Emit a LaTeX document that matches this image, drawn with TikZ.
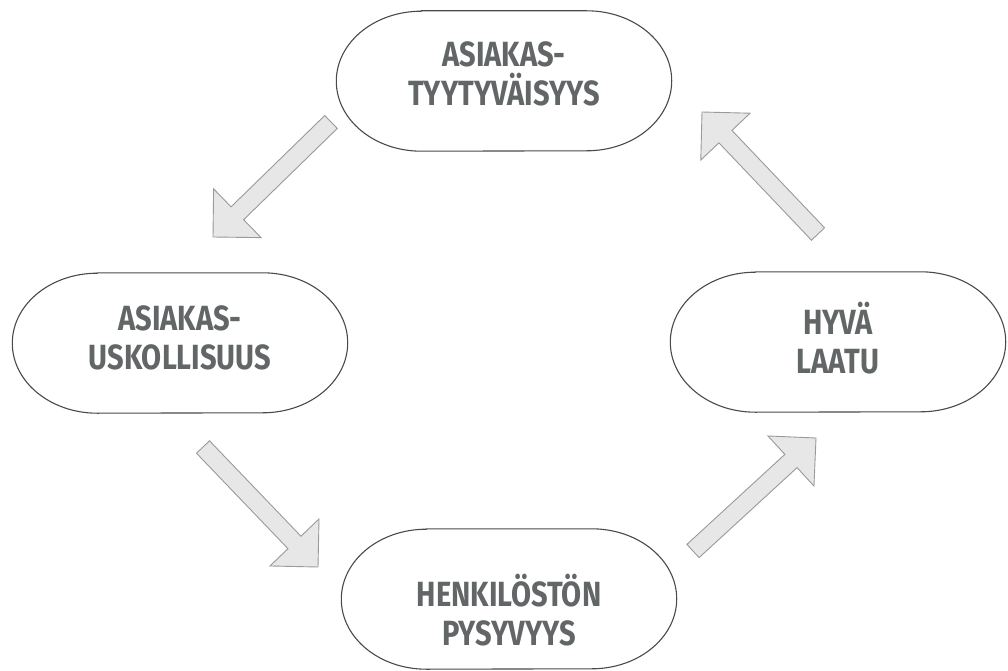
\documentclass[tikz,border=0pt]{standalone}
\usepackage{fontspec}
\newfontfamily\lblfont{Fira Sans}[FakeStretch=0.83]
\usetikzlibrary{calc}
\definecolor{ink}{HTML}{626666}
\definecolor{rim}{HTML}{4A4A4A}
\definecolor{arrowfill}{HTML}{E7E7E7}
\definecolor{arrowrim}{HTML}{9A9A9A}

\tikzset{
  pill/.style={minimum width=335pt, minimum height=140pt, inner sep=0pt},
  pilltext/.style={inner sep=0pt, align=center, text=ink,
    font=\lblfont\bfseries\fontsize{35}{39}\selectfont},
  pillrim/.style={draw=rim, line width=1.1pt},
  blockarrow/.style={fill=arrowfill, draw=arrowrim, line width=0.9pt, line join=miter},
}

% stadium outline with elliptical ends around a named node
\newcommand\pilloutline[1]{%
  \draw[pillrim] ($(#1.north west)+(85,0)$) -- ($(#1.north east)+(-85,0)$)
    arc[start angle=90, end angle=-90, x radius=85, y radius=70]
    -- ($(#1.south west)+(85,0)$)
    arc[start angle=270, end angle=90, x radius=85, y radius=70] -- cycle;}

% wide block arrow from a tail coordinate (#1) to a tip coordinate (#2)
\newcommand\blockarrow[2]{%
  \draw[blockarrow] (#2)
    -- ($(#2)!34pt!(#1)!34pt!90:(#1)$)
    -- ($(#2)!34pt!(#1)!9pt!90:(#1)$)
    -- ($(#1)!9pt!-90:(#2)$)
    -- ($(#1)!9pt!90:(#2)$)
    -- ($(#2)!34pt!(#1)!9pt!-90:(#1)$)
    -- ($(#2)!34pt!(#1)!34pt!-90:(#1)$)
    -- cycle;}

\begin{document}
\begin{tikzpicture}[x=1pt, y=1pt]
  \useasboundingbox[fill=white] (0,0) rectangle (1008,-671);

  \node[pill] (sat)   at (504,-81)  {};
  \node[pill] (loy)   at (180,-343) {};
  \node[pill] (qual)  at (838,-342) {};
  \node[pill] (staff) at (509,-599) {};

  \pilloutline{sat}
  \pilloutline{loy}
  \pilloutline{qual}
  \pilloutline{staff}

  \node[pilltext] (sat-text)   at ($(sat)+(0,7)$)     {ASIAKAS-\\TYYTYVÄISYYS};
  \node[pilltext] (loy-text)   at ($(loy)+(0,5)$)     {ASIAKAS-\\USKOLLISUUS};
  \node[pilltext] (qual-text)  at ($(qual)+(0,4)$)    {HYVÄ\\LAATU};
  \node[pilltext] (staff-text) at ($(staff)+(0,-11)$) {HENKILÖSTÖN\\PYSYVYYS};

  \coordinate (a1tail) at (331,-122);  \coordinate (a1tip) at (213,-237);
  \coordinate (a2tail) at (203,-447);  \coordinate (a2tip) at (318,-567);
  \coordinate (a3tail) at (693,-551);  \coordinate (a3tip) at (816,-438);
  \coordinate (a4tail) at (818,-234);  \coordinate (a4tip) at (702,-112);

  \blockarrow{a1tail}{a1tip}
  \blockarrow{a2tail}{a2tip}
  \blockarrow{a3tail}{a3tip}
  \blockarrow{a4tail}{a4tip}
\end{tikzpicture}
\end{document}
